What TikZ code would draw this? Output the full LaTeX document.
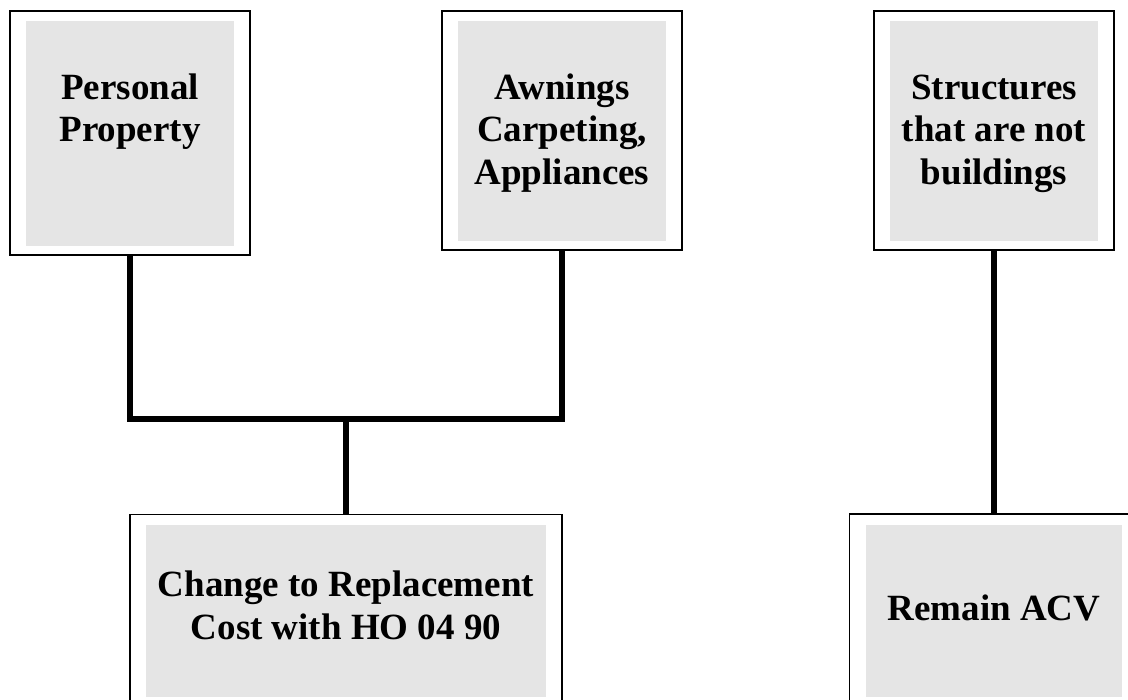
\documentclass[tikz,border=0pt]{standalone}
\usepackage{fontspec}
\setmainfont{Liberation Serif}
\definecolor{boxgray}{RGB}{229,229,229}
\tikzset{
  outerbox/.style={draw=black, line width=1.8pt, fill=white, inner sep=0pt, outer sep=0pt},
  graybox/.style={fill=boxgray, draw=none, inner sep=0pt, outer sep=0pt},
  label/.style={font=\fontsize{37}{42.5}\selectfont\bfseries, align=center, inner sep=0pt, anchor=north},
  conn/.style={line width=6pt, line join=miter, draw=black}
}
\newcommand{\firstline}{\rule{0pt}{30pt}}
\begin{document}
\begin{tikzpicture}[x=1pt,y=-1pt]
\useasboundingbox (0,0) rectangle (1128,700);
\clip (0,0) rectangle (1128,700);
\fill[white] (0,0) rectangle (1128,700);

% top boxes
\node[outerbox, minimum width=240pt, minimum height=244pt] (p1) at (130,133) {};
\node[graybox, minimum width=208pt, minimum height=225pt] (g1) at (130,133.5) {};
\node[label] (t1) at (130,69) {\firstline Personal\\Property};

\node[outerbox, minimum width=240pt, minimum height=239pt] (p2) at (562,130.5) {};
\node[graybox, minimum width=208pt, minimum height=220pt] (g2) at (562,131) {};
\node[label] (t2) at (562,69) {\firstline Awnings\\Carpeting,\\Appliances};

\node[outerbox, minimum width=240pt, minimum height=239pt] (p3) at (994,130.5) {};
\node[graybox, minimum width=208pt, minimum height=220pt] (g3) at (994,131) {};
\node[label] (t3) at (994,69) {\firstline Structures\\that are not\\buildings};

% bottom boxes
\node[outerbox, minimum width=432pt, minimum height=192pt] (c1) at (346,610.5) {};
\node[graybox, minimum width=400pt, minimum height=172pt] (h1) at (346,611) {};
\node[label] (t4) at (346,566.5) {\firstline Change to Replacement\\Cost with HO 04 90};

\node[outerbox, minimum width=289pt, minimum height=192pt] (c2) at (994,610) {};
\node[graybox, minimum width=256pt, minimum height=172pt] (h2) at (994,611) {};
\node[label] (t5) at (994,590) {\firstline Remain ACV};

% connectors
\coordinate (jl) at (130,419);
\coordinate (jr) at (562,419);
\coordinate (jm) at (346,419);
\draw[conn] (p1.south) -- (jl) -- (jr) -- (p2.south);
\draw[conn] (jm) -- (c1.north);
\draw[conn] (p3.south) -- (c2.north);
\end{tikzpicture}
\end{document}
